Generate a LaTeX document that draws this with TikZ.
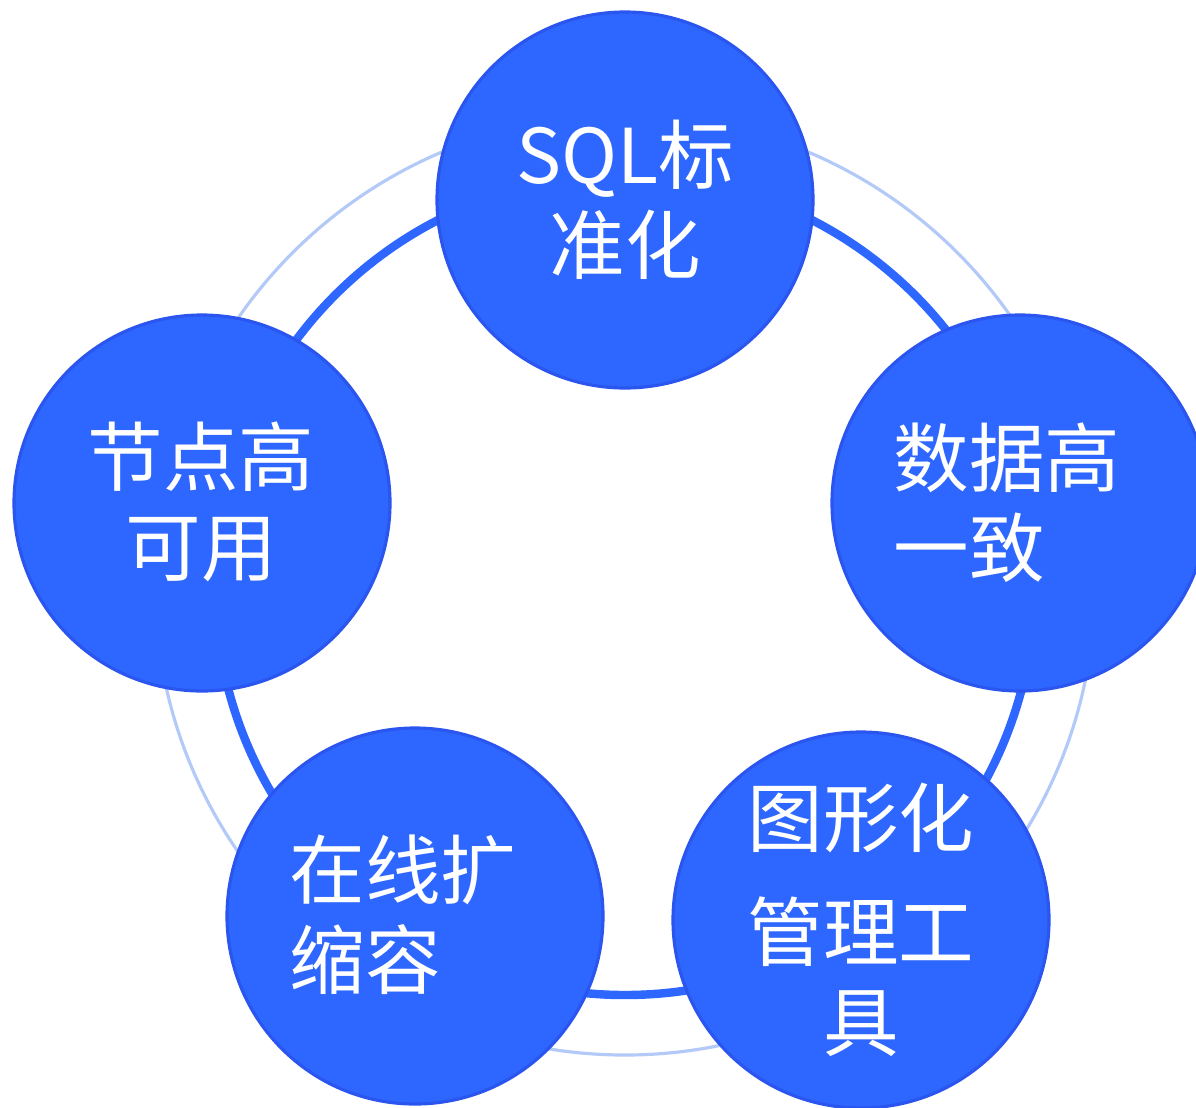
\documentclass[tikz,border=0pt]{standalone}
\usepackage{fontspec}
\usepackage{xcolor}
\usepackage{tikz}
\usetikzlibrary{positioning}
\newfontfamily\cjk{Noto Sans CJK SC}
\definecolor{featblue}{HTML}{2E67FF}
\definecolor{featedge}{HTML}{2A55EE}
\definecolor{ringpale}{HTML}{B3C9F8}
\tikzset{
every node/.style={inner sep=0pt}, % no padding round the texts
feat/.style={circle, fill=featblue, draw=featedge, line width=0.9pt, minimum size=3.76cm},
lbl/.style={text=white, font=\cjk\fontsize{21.5pt}{25.6pt}\selectfont},
}

\begin{document}
\begin{tikzpicture}
  \useasboundingbox (0,0) rectangle (11.96,11.07);
  \clip (0,0) rectangle (11.96,11.07);
  \coordinate (c) at (6.25,5.22);
  \draw[ringpale, line width=0.9pt] (c) circle (4.70);
  \draw[featblue, line width=2.4pt] (c) circle (4.10);
  \node[feat] (sql) at (6.25,9.07) {};
  \node[feat] (data) at (10.20,6.04) {};
  \node[feat] (gui) at (8.61,1.87) {};
  \node[feat] (scale) at (4.15,1.91) {};
  \node[feat] (node) at (2.02,6.04) {};
  \node[lbl, align=center] (sqlt) at (sql) {SQL标\\准化};
  \node[lbl, align=left, anchor=west] (datat) at (8.93,6.045) {数据高\\一致};
  \node[lbl, align=center] (guit) at (8.61,1.87) {图形化\\[0.24cm]管理工\\具};
  \node[lbl, align=left, anchor=west] (scalet) at (2.89,1.92) {在线扩\\缩容};
  \node[lbl, align=center] (nodet) at (2.01,6.05) {节点高\\可用};
\end{tikzpicture}
\end{document}
